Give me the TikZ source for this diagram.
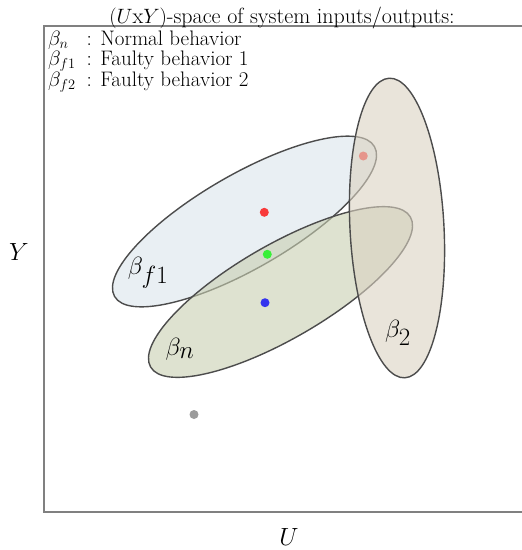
\documentclass[tikz,border=0pt]{standalone}
\usepackage{amsmath}
\begin{document}
\begin{tikzpicture}[x=1pt,y=-1pt,
  region/.style={draw=black!70,line width=1.4pt,fill opacity=0.6},
  dot/.style={circle,inner sep=0pt,minimum size=9pt},
  legtxt/.style={anchor=north west,inner sep=0pt,align=left,font=\fontsize{21}{18}\selectfont},
  biglbl/.style={inner sep=0pt,font=\fontsize{34}{36}\selectfont},
  axlbl/.style={inner sep=0pt,font=\fontsize{33}{35}\selectfont}]
\definecolor{cfone}{RGB}{218,228,235}
\definecolor{cn}{RGB}{200,207,177}
\definecolor{ctwo}{RGB}{218,210,193}
\definecolor{cred}{RGB}{248,58,58}
\definecolor{cgreen}{RGB}{58,240,58}
\definecolor{cblue}{RGB}{52,52,238}
\definecolor{cgray}{RGB}{155,155,155}
\useasboundingbox (0,0) rectangle (522,550);
% frame
\draw[draw=black!50,line width=1.3pt] (522,26) -- (44,26) -- (44,512) -- (522,512);
% title
\node[anchor=base,inner sep=0pt,font=\fontsize{22}{24}\selectfont] (title) at (282,23) {$(U$x$Y)$-space of system inputs/outputs:};
% legend
\node[legtxt] (legend) at (48,31) {\makebox[38.5pt][l]{$\beta_n$}: Normal behavior\\
\makebox[38.5pt][l]{$\beta_{f1}$}: Faulty behavior 1\\
\makebox[38.5pt][l]{$\beta_{f2}$}: Faulty behavior 2};
% regions
\draw[region,fill=cfone] (244.5,221.5) ellipse [x radius=150, y radius=47, rotate=30];
\draw[region,fill=cn] (280.5,292) ellipse [x radius=150, y radius=47, rotate=30];
% dots
\node[dot,fill=cred] (dr) at (264.3,212.3) {};
\node[dot,fill=cgreen] (dg) at (267.3,254.3) {};
\node[dot,fill=cblue] (db) at (265,302.7) {};
\node[dot,fill=cred] (dp) at (363.3,156) {};
\node[dot,fill=cgray] (dy) at (194,414.5) {};
\draw[region,fill=ctwo] (397,228) ellipse [x radius=150, y radius=47, rotate=93];
% region labels
\node[biglbl] (bf1) at (148,273) {$\beta_{f1}$};
\node[biglbl] (bn) at (180,349) {$\beta_n$};
\node[biglbl] (b2) at (398,333) {$\beta_2$};
% axes labels
\node[axlbl] (ly) at (19,252) {$Y$};
\node[axlbl] (lu) at (289,537) {$U$};
\end{tikzpicture}
\end{document}
